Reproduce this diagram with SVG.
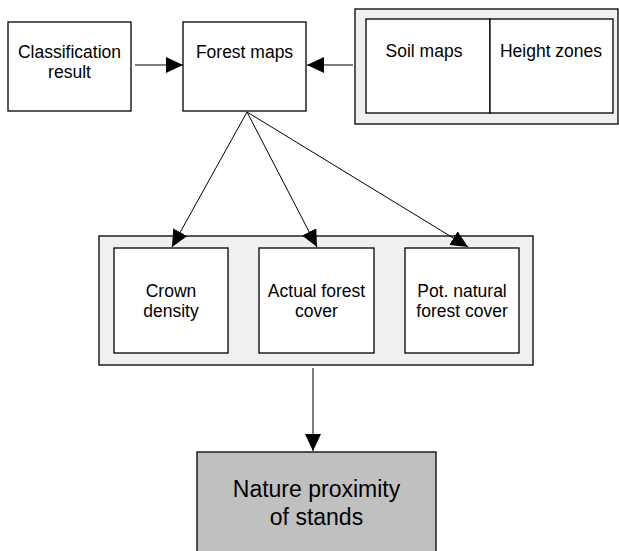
<svg xmlns="http://www.w3.org/2000/svg" width="619" height="551" viewBox="0 0 619 551">
<style>
.box{fill:#fff;stroke:#000;stroke-width:1.3}
.grp{fill:#f0f0f0;stroke:#000;stroke-width:1.3}
.dark{fill:#c0c0c0;stroke:#000;stroke-width:1.3}
text{font-family:"Liberation Sans",Arial,sans-serif;font-size:17.5px;fill:#000;text-anchor:middle}
.big{font-size:23px}
.c{stroke:#000;stroke-width:1;fill:none;marker-end:url(#ah)}
</style>
<defs>
<marker id="ah" markerWidth="18" markerHeight="16" refX="17" refY="8" orient="auto" markerUnits="userSpaceOnUse">
<path d="M0,0 L17,8 L0,16 Z" fill="#000"/>
</marker>
</defs>
<rect width="619" height="551" fill="#fff"/>
<g id="classification">
<rect class="box" x="8" y="22" width="123" height="89"/>
<text x="69.5" y="58">Classification</text>
<text x="69.5" y="78">result</text>
</g>
<g id="forest-maps">
<rect class="box" x="183" y="22" width="123" height="89"/>
<text x="244.5" y="58">Forest maps</text>
</g>
<g id="inputs">
<rect class="grp" x="355" y="9" width="263" height="115"/>
<g id="soil-maps">
<rect class="box" x="366" y="19" width="124" height="94"/>
<text x="424" y="57">Soil maps</text>
</g>
<g id="height-zones">
<rect class="box" x="490" y="19" width="123" height="94"/>
<text x="551" y="57">Height zones</text>
</g>
</g>
<g id="results">
<rect class="grp" x="99" y="236" width="434" height="129"/>
<g id="crown-density">
<rect class="box" x="114" y="248" width="114" height="105"/>
<text x="171" y="297">Crown</text>
<text x="171" y="317">density</text>
</g>
<g id="actual-forest-cover">
<rect class="box" x="259" y="248" width="115" height="105"/>
<text x="316.5" y="297">Actual forest</text>
<text x="316.5" y="317">cover</text>
</g>
<g id="pot-natural-forest-cover">
<rect class="box" x="405" y="248" width="114" height="105"/>
<text x="462" y="297">Pot. natural</text>
<text x="462" y="317">forest cover</text>
</g>
</g>
<g id="nature-proximity">
<rect class="dark" x="197" y="452" width="239" height="104"/>
<text class="big" x="316.5" y="497">Nature proximity</text>
<text class="big" x="316.5" y="525">of stands</text>
</g>
<g id="connectors">
<line class="c" x1="135" y1="65" x2="183" y2="65"/>
<line class="c" x1="353" y1="65" x2="307" y2="65"/>
<line class="c" x1="247" y1="112" x2="172" y2="247"/>
<line class="c" x1="247" y1="112" x2="317" y2="247"/>
<line class="c" x1="247" y1="112" x2="468" y2="247"/>
<line class="c" x1="313" y1="368" x2="313" y2="451"/>
</g>
</svg>
